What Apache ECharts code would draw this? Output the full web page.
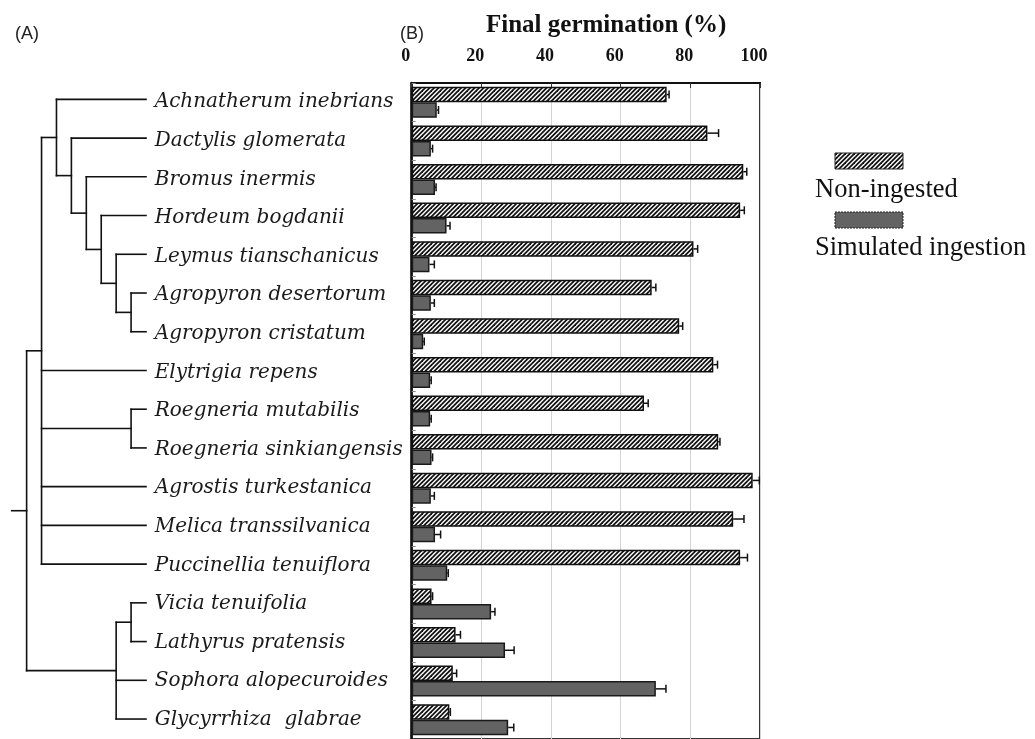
<!DOCTYPE html>
<html><head><meta charset="utf-8">
<script src="https://cdn.jsdelivr.net/npm/echarts@6/dist/echarts.min.js"></script>
<style>html,body{margin:0;padding:0;background:#fff}#c{width:1035px;height:739px}</style>
</head><body><div id="c"></div>
<script>
// ---- data ----
const species = ['Achnatherum inebrians','Dactylis glomerata','Bromus inermis','Hordeum bogdanii',
  'Leymus tianschanicus','Agropyron desertorum','Agropyron cristatum','Elytrigia repens',
  'Roegneria mutabilis','Roegneria sinkiangensis','Agrostis turkestanica','Melica transsilvanica',
  'Puccinellia tenuiflora','Vicia tenuifolia','Lathyrus pratensis','Sophora alopecuroides','Glycyrrhiza  glabrae'];
const nonIngested    = [73.2, 84.9, 95.2, 94.3, 80.9, 68.9, 76.8, 86.6, 66.7, 88.0, 97.9, 92.3, 94.3, 5.7, 12.6, 11.8, 10.8];
const nonIngestedErr = [0.7, 3.2, 1.0, 1.2, 1.2, 1.2, 1.0, 1.2, 1.2, 0.5, 1.9, 3.1, 2.1, 0.3, 1.4, 1.1, 0.3];
const simulated      = [7.2, 5.5, 6.7, 10.0, 5.1, 5.5, 3.3, 5.3, 5.3, 5.7, 5.5, 6.7, 10.2, 22.8, 26.8, 70.1, 27.7];
const simulatedErr   = [0.5, 0.5, 0.3, 1.0, 1.4, 1.0, 0.3, 0.3, 0.3, 0.3, 1.0, 1.6, 0.3, 1.1, 2.6, 2.9, 1.6];
const seriesNames = ['Non-ingested', 'Simulated ingestion'];
const axisTitle = 'Final germination (%)';

// dendrogram (clade name, level from root, children: leaf index or clade name)
const cladeNames    = ['root', 'grass', 'A', 'D', 'B', 'H', 'L', 'Ag', 'Roeg', 'legume', 'V'];
const cladeLevels   = [1, 2, 3, 4, 5, 6, 7, 8, 8, 7, 8];
const cladeChildren = [['grass','legume'], ['A',7,'Roeg',10,11,12], [0,'D'], [1,'B'], [2,'H'], [3,'L'],
  [4,'Ag'], [5,6], [8,9], ['V',15,16], [13,14]];
const leafLevel = 9;
const rootStubLevel = 0;

// ---- tree segments ----
const cladeIdx = {}; cladeNames.forEach((n, i) => cladeIdx[n] = i);
function nodeY(r) { if (typeof r === 'number') return r; const k = cladeChildren[cladeIdx[r]]; return (nodeY(k[0]) + nodeY(k[k.length - 1])) / 2; }
function nodeLevel(r) { return typeof r === 'number' ? leafLevel : cladeLevels[cladeIdx[r]]; }
const treeSegments = [];
cladeNames.forEach((n, i) => {
  const k = cladeChildren[i], lv = cladeLevels[i];
  treeSegments.push([lv, nodeY(k[0]), lv, nodeY(k[k.length - 1])]);
  k.forEach(c => treeSegments.push([lv, nodeY(c), nodeLevel(c), nodeY(c)]));
});
treeSegments.push([rootStubLevel, nodeY('root'), cladeLevels[0], nodeY('root')]);

// ---- patterns ----
function hatch() {
  const s = 9, c = document.createElement('canvas'); c.width = s; c.height = s;
  const g = c.getContext('2d'); g.fillStyle = '#fff'; g.fillRect(0, 0, s, s);
  g.strokeStyle = '#111'; g.lineWidth = 1.8;
  for (let k = -2; k <= 4; k++) { const o = k * 4.5; g.beginPath(); g.moveTo(o - 2, s + 2); g.lineTo(o + s + 2, -2); g.stroke(); }
  return { image: c, repeat: 'repeat' };
}
const hatchFill = hatch();
const darkFill = '#636363';

const barW = 15.5;
const gridTop = 83, gridH = 658.4;

function errRender(sign) {
  return function (params, api) {
    const cat = api.value(0), v = api.value(1), e = api.value(2);
    const p0 = api.coord([v, cat]), p1 = api.coord([v + e, cat]);
    const y = p0[1] + sign * barW / 2;
    return { type: 'group', children: [
      { type: 'line', shape: { x1: p0[0], y1: y, x2: p1[0], y2: y }, style: { stroke: '#111', lineWidth: 1.5 } },
      { type: 'line', shape: { x1: p1[0], y1: y - 4, x2: p1[0], y2: y + 4 }, style: { stroke: '#111', lineWidth: 1.5 } }
    ]};
  };
}

const chart = echarts.init(document.getElementById('c'), null, { renderer: 'canvas' });
chart.setOption({
  animation: false,
  backgroundColor: '#fff',
  title: [
    { text: axisTitle, left: 481, top: 8, textStyle: { fontFamily: 'Liberation Serif', fontWeight: 'bold', fontSize: 25, color: '#111' } },
    { text: '(A)', left: 10, top: 20, textStyle: { fontFamily: 'Liberation Sans', fontWeight: 'normal', fontSize: 18, color: '#222' } },
    { text: '(B)', left: 395, top: 20, textStyle: { fontFamily: 'Liberation Sans', fontWeight: 'normal', fontSize: 18, color: '#222' } }
  ],
  grid: [
    { left: 411.7, width: 348.3, top: gridTop, height: gridH, show: true, borderColor: '#333', borderWidth: 2, backgroundColor: 'transparent' },
    { left: 11.7, width: 134.3, top: gridTop - 3, height: gridH }
  ],
  xAxis: [
    { type: 'value', gridIndex: 0, position: 'top', min: 0, max: 100, interval: 20,
      axisLine: { show: true, lineStyle: { color: '#111', width: 2 } },
      axisTick: { show: true, inside: true, length: 5, lineStyle: { color: '#333' } },
      splitLine: { show: true, lineStyle: { color: '#d4d4d4', width: 1 } },
      axisLabel: { margin: 18, fontFamily: 'Liberation Serif', fontWeight: 'bold', fontSize: 18, color: '#111', padding: [0, 12, 0, 0] } },
    { type: 'value', gridIndex: 1, min: 0, max: leafLevel, show: false }
  ],
  yAxis: [
    { type: 'category', gridIndex: 0, inverse: true, data: species,
      axisLine: { show: true, lineStyle: { color: '#111', width: 2.5 } },
      axisTick: { show: true, inside: true, length: 4, lineStyle: { color: '#888' } },
      axisLabel: { align: 'left', margin: 257, fontFamily: 'DejaVu Serif', fontStyle: 'italic', fontSize: 20, color: '#1a1a1a', padding: [0, 0, 6, 0] } },
    { type: 'value', gridIndex: 1, inverse: true, min: -0.5, max: species.length - 0.5, show: false }
  ],
  series: [
    { name: seriesNames[0], type: 'bar', xAxisIndex: 0, yAxisIndex: 0, data: nonIngested, barWidth: barW, barGap: '0%',
      itemStyle: { color: hatchFill, borderColor: '#111', borderWidth: 1.5 } },
    { name: seriesNames[1], type: 'bar', xAxisIndex: 0, yAxisIndex: 0, data: simulated, barWidth: barW, barGap: '0%',
      itemStyle: { color: darkFill, borderColor: '#1a1a1a', borderWidth: 1.5 } },
    { type: 'custom', xAxisIndex: 0, yAxisIndex: 0, encode: { x: 1, y: 0 }, renderItem: errRender(-1),
      data: species.map((s, i) => [i, nonIngested[i], nonIngestedErr[i]]), z: 5 },
    { type: 'custom', xAxisIndex: 0, yAxisIndex: 0, encode: { x: 1, y: 0 }, renderItem: errRender(1),
      data: species.map((s, i) => [i, simulated[i], simulatedErr[i]]), z: 5 },
    { type: 'custom', xAxisIndex: 1, yAxisIndex: 1, encode: { x: [0, 2], y: [1, 3] }, data: treeSegments,
      renderItem: function (params, api) {
        const a = api.coord([api.value(0), api.value(1)]), b = api.coord([api.value(2), api.value(3)]);
        return { type: 'line', shape: { x1: a[0], y1: a[1], x2: b[0], y2: b[1] }, style: { stroke: '#111', lineWidth: 1.6, lineCap: 'square' } };
      } }
  ],
  graphic: [
    { type: 'rect', shape: { x: 835, y: 153, width: 68, height: 16 }, style: { fill: hatchFill, stroke: '#222', lineWidth: 1 } },
    { type: 'text', x: 815, y: 190, style: { text: seriesNames[0], font: '26.5px "Liberation Serif"', fill: '#111', verticalAlign: 'middle' } },
    { type: 'rect', shape: { x: 835, y: 212, width: 68, height: 16 }, style: { fill: darkFill, stroke: '#222', lineWidth: 1, lineDash: [2, 1] } },
    { type: 'text', x: 815, y: 248, style: { text: seriesNames[1], font: '26.5px "Liberation Serif"', fill: '#111', verticalAlign: 'middle' } }
  ]
});
</script></body></html>
